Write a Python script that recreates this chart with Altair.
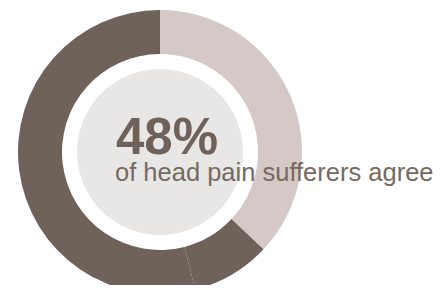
import altair as alt
import pandas as pd
import math

segments = ["Agree", "Partly", "Other"]
shares = [37, 9, 54]
seg_colors = ["#d4c9c7", "#6f625a", "#6f625a"]
order_idx = [0, 1, 2]

headline = "48%"
subline = "of head pain sufferers agree"

df = pd.DataFrame({"segment": segments, "share": shares, "ord": order_idx})

CX, CY = 152, 144

ring = alt.Chart(df).mark_arc(outerRadius=142, innerRadius=98, stroke=None).encode(
    theta=alt.Theta("share:Q", stack=True),
    order=alt.Order("ord:Q"),
    color=alt.Color("segment:N", scale=alt.Scale(domain=segments, range=seg_colors), legend=None),
    x=alt.value(CX),
    y=alt.value(CY),
)

center = alt.Chart(pd.DataFrame({"v": [1]})).mark_arc(outerRadius=83, color="#e9e7e6").encode(
    theta=alt.value(0),
    theta2=alt.value(2 * math.pi),
    x=alt.value(CX),
    y=alt.value(CY),
)

big = alt.Chart(pd.DataFrame({"t": [headline]})).mark_text(
    font="Liberation Sans", fontSize=51, fontWeight="bold", color="#6f625a",
    align="left", baseline="alphabetic",
).encode(text="t:N", x=alt.value(108), y=alt.value(146))

small = alt.Chart(pd.DataFrame({"t": [subline]})).mark_text(
    font="Liberation Sans", fontSize=25.5, color="#76695f",
    align="left", baseline="alphabetic",
).encode(text="t:N", x=alt.value(107), y=alt.value(173))

chart = alt.layer(ring, center, big, small).properties(
    width=432, height=277, padding=0, autosize=alt.AutoSizeParams(type="none")
).configure_view(stroke=None)

chart.save("out.html", embed_options={"renderer": "svg", "actions": False})
